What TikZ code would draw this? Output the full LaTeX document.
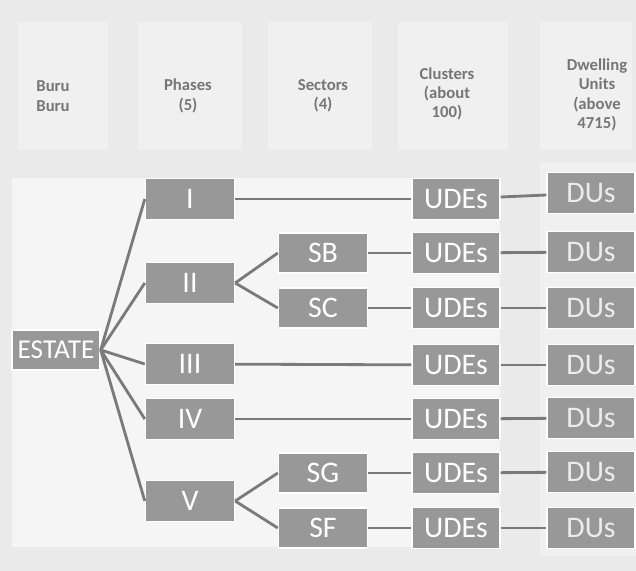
\documentclass[tikz,border=0pt]{standalone}
\usepackage{fontspec}
\setmainfont{Carlito}
\usetikzlibrary{positioning}
\definecolor{boxgray}{RGB}{152,152,152}
\definecolor{linegray}{RGB}{122,122,122}
\definecolor{bggray}{RGB}{234,234,234}
\definecolor{panelgray}{RGB}{245,245,245}
\definecolor{headgray}{RGB}{118,118,118}

\begin{document}
\begin{tikzpicture}[x=0.02cm, y=-0.02cm,
            box/.style = {rectangle, fill=boxgray, draw=white, line width=0.8pt,
                text=white, inner sep=0pt, minimum width=1.78cm, minimum height=0.81cm,
                font=\fontsize{17}{17}\selectfont},
            head/.style = {align=center, text=headgray,
                font=\fontsize{9.5}{11}\selectfont\bfseries},
            link/.style = {draw=linegray, line width=1.6pt}]
            % background, header columns and pasted panels
            \fill[bggray] (0,0) rectangle (636,571);
            \useasboundingbox (0,0) rectangle (636,571);
            \foreach \xa/\xb in {18/108, 138/242, 268/372, 398/508, 540/632}
                \fill[panelgray!55!bggray] (\xa,22) rectangle (\xb,150);
            \fill[panelgray] (12,178) rectangle (500,547);
            \fill[panelgray!55!bggray] (540,162) rectangle (636,556);
            % headers
            \node[head] (hEstate) at (53,96) {Buru\\Buru};
            \node[head] (hPhase) at (188,96) {Phases\\(5)};
            \node[head] (hSector) at (323,96) {Sectors\\(4)};
            \node[head] (hCluster) at (447,94) {Clusters\\(about\\100)};
            \node[head] (hDwell) at (597,95) {Dwelling\\Units\\(above\\4715)};
            % estate and phases
            \node[box, minimum width=1.76cm, minimum height=0.8cm,
                font=\fontsize{15.5}{16}\selectfont] (estate) at (56,350) {ESTATE};
            \node[box] (p1) at (190,199) {I};
            \node[box] (p2) at (190,283) {II};
            \node[box] (p3) at (190,364) {III};
            \node[box] (p4) at (190,419) {IV};
            \node[box] (p5) at (190,501) {V};
            % sectors
            \node[box, minimum height=0.8cm] (sb) at (323,253) {SB};
            \node[box, minimum height=0.8cm] (sc) at (323,308) {SC};
            \node[box, minimum height=0.8cm] (sg) at (323,473) {SG};
            \node[box, minimum height=0.8cm] (sf) at (323,528) {SF};
            % clusters and dwelling units
            \foreach \n/\y/\z in {1/199/193, 2/253/252, 3/308/308, 4/365/365,
                                  5/419/418, 6/473/472, 7/528/528} {
                \node[box, minimum width=1.76cm] (u\n) at (456,\y) {UDEs};
                \node[box, minimum width=1.76cm, text=white!82!boxgray] (d\n) at (591,\z) {DUs};
                \draw[link] (u\n) -- (d\n);
            }
            % links
            \foreach \p in {p1,p2,p3,p4,p5}
                \draw[link] (estate.east) -- (\p.west);
            \draw[link] (p2.east) -- (sb.west);
            \draw[link] (p2.east) -- (sc.west);
            \draw[link] (p5.east) -- (sg.west);
            \draw[link] (p5.east) -- (sf.west);
            \draw[link] (p1) -- (u1);
            \draw[link] (sb) -- (u2);
            \draw[link] (sc) -- (u3);
            \draw[link] (p3) -- (u4);
            \draw[link] (p4) -- (u5);
            \draw[link] (sg) -- (u6);
            \draw[link] (sf) -- (u7);
\end{tikzpicture}
\end{document}
